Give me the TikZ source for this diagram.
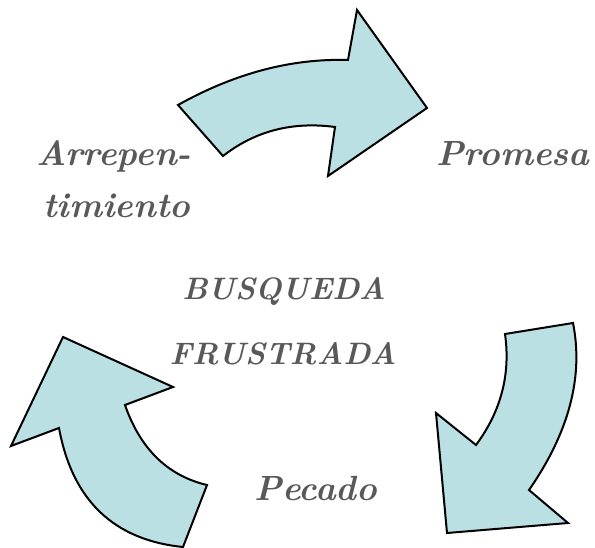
\documentclass[tikz,border=0pt]{standalone}
\usepackage{xcolor}
\definecolor{arrowfill}{HTML}{BBE0E3}
\definecolor{txt}{HTML}{595959}
\begin{document}
\begin{tikzpicture}[x=1pt,y=-1pt,
  cyc/.style={draw=black,fill=arrowfill,line width=2pt,line join=miter},
  lbl/.style={text=txt,font=\fontsize{35}{42}\selectfont\bfseries\itshape,inner sep=0pt},
  caps/.style={lbl,font=\fontsize{31}{38}\selectfont\bfseries\itshape}]
\useasboundingbox (0,0) rectangle (595,548);
% top arrow
\draw[cyc] (178,105) -- (223,156)
  .. controls (255,131) and (292.3,121.3) .. (335,127)
  -- (328,176) -- (427,108) -- (357,10) -- (348,60)
  .. controls (291.3,58.3) and (234.7,73.3) .. (178,105) -- cycle;
% right arrow
\draw[cyc] (573,323) -- (505,334)
  .. controls (510.7,374.3) and (501,411.3) .. (476,445)
  -- (436,413) -- (447,533) -- (568,523) -- (529,490)
  .. controls (569,432.3) and (583.7,376.7) .. (573,323) -- cycle;
% left arrow
\draw[cyc] (183,547) -- (207,485)
  .. controls (167.7,475.7) and (140.3,449) .. (125,405)
  -- (173,387) -- (63,337) -- (11,446) -- (59,428)
  .. controls (72.3,500.3) and (113.7,540) .. (183,547) -- cycle;
\node[lbl,anchor=base] (arr1) at (114,166) {Arrepen-};
\node[lbl,anchor=base] (arr2) at (117,218) {timiento};
\node[lbl,anchor=base] (pro) at (513,166) {Promesa};
\node[caps,anchor=base] (bus1) at (284,300) {BUSQUEDA};
\node[caps,anchor=base] (bus2) at (283,365) {FRUSTRADA};
\node[lbl,anchor=base] (pec) at (316,500) {Pecado};
\end{tikzpicture}
\end{document}
